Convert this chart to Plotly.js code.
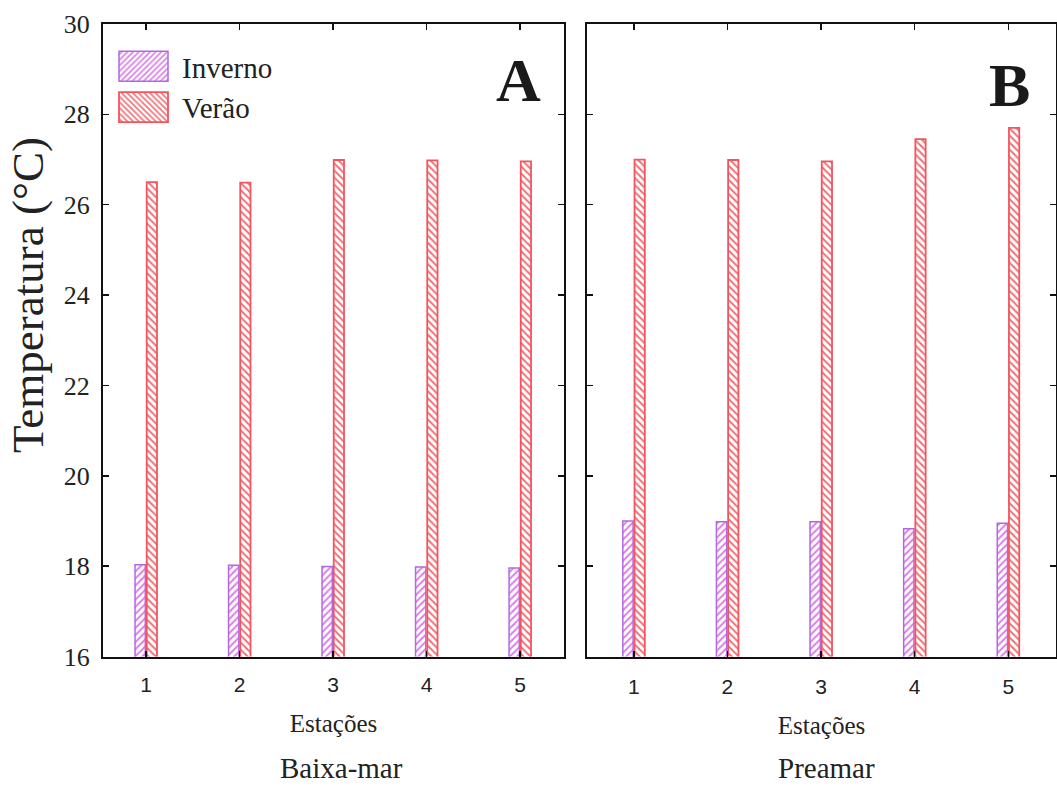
<!DOCTYPE html>
<html><head><meta charset="utf-8">
<script src="https://cdn.plot.ly/plotly-3.0.1.min.js"></script>
<style>html,body{margin:0;padding:0;background:#fff}#chart{width:1057px;height:787px}</style>
</head><body><div id="chart"></div>
<script>
const stations = ['1', '2', '3', '4', '5'];
const seriesNames = ['Inverno', 'Verão'];
const invernoBaixaMar = [18.03, 18.02, 17.99, 17.98, 17.96];
const veraoBaixaMar = [26.5, 26.49, 26.99, 26.98, 26.96];
const invernoPreamar = [19.0, 18.98, 18.98, 18.83, 18.95];
const veraoPreamar = [27.0, 26.99, 26.96, 27.45, 27.7];
const yTicks = [16, 18, 20, 22, 24, 26, 28, 30];

const W = 1057, H = 787;
const px = v => v / W, py = v => 1 - v / H;

const invStyle = {color: '#ffffff', pattern: {shape: '/', fgcolor: '#d97ee8', bgcolor: '#ffffff', size: 5, solidity: 0.4}, line: {color: '#b368e2', width: 1.5}};
const verStyle = {color: '#ffffff', pattern: {shape: '\\', fgcolor: '#f07076', bgcolor: '#ffffff', size: 5, solidity: 0.4}, line: {color: '#f2555f', width: 1.8}};

const traces = [
  {type: 'bar', name: seriesNames[0], x: stations, y: invernoBaixaMar, xaxis: 'x', yaxis: 'y', marker: invStyle, legendgroup: 'inv', showlegend: true},
  {type: 'bar', name: seriesNames[1], x: stations, y: veraoBaixaMar, xaxis: 'x', yaxis: 'y', marker: verStyle, legendgroup: 'ver', showlegend: true},
  {type: 'bar', name: seriesNames[0], x: stations, y: invernoPreamar, xaxis: 'x2', yaxis: 'y2', marker: invStyle, legendgroup: 'inv', showlegend: false},
  {type: 'bar', name: seriesNames[1], x: stations, y: veraoPreamar, xaxis: 'x2', yaxis: 'y2', marker: verStyle, legendgroup: 'ver', showlegend: false}
];

const serif = 'Liberation Serif, Times New Roman, serif';
const sans = 'Liberation Sans, Arial, sans-serif';

const axCommon = {
  showline: true, linecolor: '#111', linewidth: 2, mirror: 'ticks',
  ticks: 'inside', ticklen: 6, tickwidth: 1.5, tickcolor: '#111',
  showgrid: false, zeroline: false, fixedrange: true
};
const yDom = [py(656.5), py(24)];

const layout = {
  width: W, height: H,
  margin: {l: 0, r: 0, t: 0, b: 0},
  paper_bgcolor: '#fff', plot_bgcolor: '#fff',
  barmode: 'group', bargap: 0.75, bargroupgap: 0.12,
  showlegend: true,
  legend: {x: px(112), y: py(41), xanchor: 'left', yanchor: 'top', bgcolor: 'rgba(0,0,0,0)',
           font: {family: serif, size: 29, color: '#222'}, itemwidth: 60, tracegroupgap: 0},
  xaxis: Object.assign({}, axCommon, {domain: [px(103), px(564)], anchor: 'y', type: 'category', range: [-0.46, 4.47],
    tickfont: {family: sans, size: 21, color: '#222'}, ticklabelstandoff: 8,
    title: {text: 'Estações', font: {family: serif, size: 25, color: '#222'}, standoff: 20}}),
  yaxis: Object.assign({}, axCommon, {domain: yDom, anchor: 'x', range: [16, 30], tickvals: yTicks,
    tickfont: {family: serif, size: 26, color: '#222'}, ticklabelstandoff: 6}),
  xaxis2: Object.assign({}, axCommon, {domain: [px(587), px(1056)], anchor: 'y2', type: 'category', range: [-0.5, 4.51],
    tickfont: {family: sans, size: 21, color: '#222'}, ticklabelstandoff: 10,
    title: {text: 'Estações', font: {family: serif, size: 25, color: '#222'}, standoff: 20}}),
  yaxis2: Object.assign({}, axCommon, {domain: yDom, anchor: 'x2', range: [16, 30], tickvals: yTicks, showticklabels: false}),
  annotations: [
    {text: '<b>A</b>', xref: 'paper', yref: 'paper', x: px(518), y: py(80), xanchor: 'center', yanchor: 'middle', showarrow: false, font: {family: serif, size: 62, color: '#1a1a1a'}},
    {text: '<b>B</b>', xref: 'paper', yref: 'paper', x: px(1009), y: py(85), xanchor: 'center', yanchor: 'middle', showarrow: false, font: {family: serif, size: 62, color: '#1a1a1a'}},
    {text: 'Baixa-mar', xref: 'paper', yref: 'paper', x: px(341), y: 0.001, xanchor: 'center', yanchor: 'bottom', showarrow: false, font: {family: serif, size: 29, color: '#222'}},
    {text: 'Preamar', xref: 'paper', yref: 'paper', x: px(826), y: 0.001, xanchor: 'center', yanchor: 'bottom', showarrow: false, font: {family: serif, size: 29, color: '#222'}},
    {text: 'Temperatura (°C)', xref: 'paper', yref: 'paper', x: px(28), y: py(295), xanchor: 'center', yanchor: 'middle', textangle: -90, showarrow: false, font: {family: serif, size: 45, color: '#222'}}
  ]
};

Plotly.newPlot('chart', traces, layout, {displayModeBar: false, staticPlot: true}).then(function (gd) {
  gd.querySelectorAll('.legend .legendpoints path').forEach(function (p) {
    p.setAttribute('d', 'M21,15H-28V-15H21Z');
  });
});
</script>
</body></html>
